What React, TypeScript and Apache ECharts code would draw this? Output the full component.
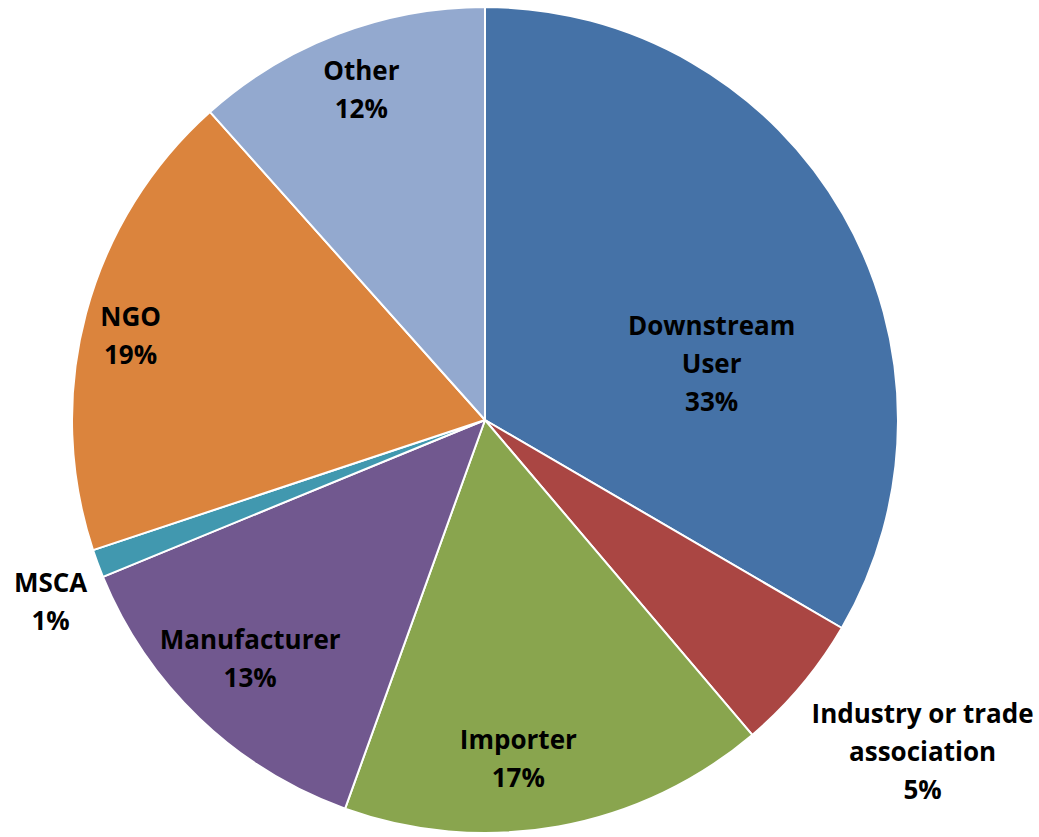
import React, { useEffect, useRef } from "react";
import * as echarts from "echarts";

const categories = [
  "Downstream\nUser",
  "Industry or trade\nassociation",
  "Importer",
  "Manufacturer",
  "MSCA",
  "NGO",
  "Other",
];
const values = [33.4, 5.4, 16.7, 13.3, 1.1, 18.5, 11.6];
const colors = ["#4572A7", "#AA4643", "#89A54E", "#71588F", "#4198AF", "#DB843D", "#93A9CF"];
const labelOffsets: [number, number][] = [
  [45, 47],
  [277, 196],
  [-4, 132],
  [-90, 87],
  [-238, 108],
  [-152, -31],
  [-49, -135],
];

export default function App() {
  const ref = useRef<HTMLDivElement>(null);
  useEffect(() => {
    document.body.style.margin = "0";
    const chart = echarts.init(ref.current!, null, { renderer: "svg" });
    chart.setOption({
      animation: false,
      backgroundColor: "#ffffff",
      series: [
        {
          type: "pie",
          center: [485, 420],
          radius: [0, 413],
          startAngle: 90,
          clockwise: true,
          avoidLabelOverlap: false,
          labelLine: { show: false },
          itemStyle: { borderColor: "#ffffff", borderWidth: 2 },
          emphasis: { disabled: true },
          label: {
            show: true,
            position: "inside",
            color: "#000000",
            fontFamily: "Open Sans",
            fontWeight: "bold",
            fontSize: 26,
            lineHeight: 38,
            align: "center",
            formatter: (p: any) => `${p.name}\n${Math.round(p.percent)}%`,
          },
          data: categories.map((name, i) => ({
            name,
            value: values[i],
            itemStyle: { color: colors[i] },
            label: { offset: labelOffsets[i] },
          })),
        },
      ],
    });
    return () => chart.dispose();
  }, []);
  return <div ref={ref} style={{ width: 1039, height: 837 }} />;
}
